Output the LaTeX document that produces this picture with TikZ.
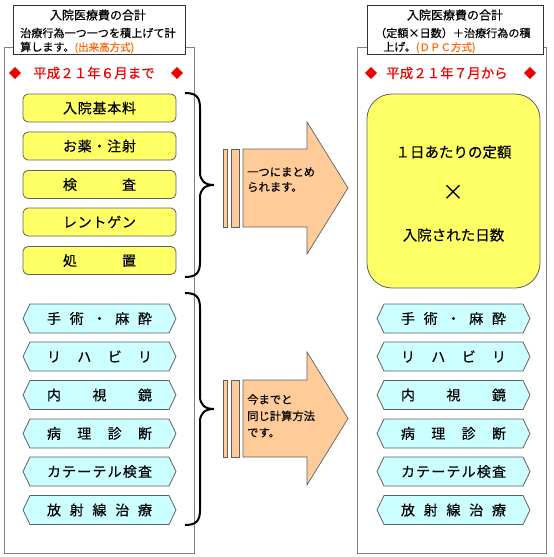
\documentclass[tikz,border=0pt]{standalone}
\usepackage{fontspec}
\setmainfont{Noto Sans CJK JP}[FakeBold=0.3]
\newfontfamily\plainfont{Noto Sans CJK JP}
\definecolor{boxyellow}{HTML}{FFFF66}
\definecolor{hexcyan}{HTML}{CCFFFF}
\definecolor{peach}{HTML}{FFCC99}
\definecolor{linegray}{HTML}{606060}
\definecolor{framegray}{HTML}{808080}
\definecolor{orangetxt}{HTML}{FF6600}
\definecolor{redtxt}{HTML}{EE0000}
\newcommand{\hexbox}[4]{%
  \draw[hexline] (#2-76.5,#3) -- (#2-69.5,#3-14.5) -- (#2+69.5,#3-14.5) -- (#2+76.5,#3) -- (#2+69.5,#3+14.5) -- (#2-69.5,#3+14.5) -- cycle;
  \node[boxtext] (#1) at (#2,#3) {\makebox[105pt][s]{#4}};}
\begin{document}
\begin{tikzpicture}[x=1pt,y=-1pt,
  frame/.style={draw=framegray,line width=0.8pt},
  hdrbox/.style={draw=black!80,line width=0.8pt,fill=white,inner sep=0pt},
  hdrtext/.style={inner sep=0pt,font=\fontsize{11.1}{13}\selectfont},
  redtext/.style={inner sep=0pt,text=redtxt,font=\fontsize{13.5}{15}\selectfont},
  yelbox/.style={draw=linegray,line width=0.8pt,fill=boxyellow,rounded corners=5pt,minimum width=153pt,minimum height=28pt,inner sep=0pt},
  boxtext/.style={inner sep=0pt,font=\fontsize{14}{16}\selectfont},
  hexline/.style={draw=linegray,line width=0.8pt,fill=hexcyan},
  bracestyle/.style={draw=black,line width=2pt},
  arrowshape/.style={draw=linegray,line width=0.7pt,fill=peach},
  arrowtext/.style={inner sep=0pt,align=left,anchor=north west,font=\fontsize{11.3}{15}\selectfont},
]
\useasboundingbox (0,0) rectangle (554,557);
% outer frames
\draw[frame] (4,47) rectangle (194,553);
\draw[frame] (357,47) rectangle (546,553);
% headers
\node[hdrbox,minimum width=172pt,minimum height=49pt] (lhdr) at (99,29.5) {};
\node[hdrtext,font=\fontsize{12}{14}\selectfont] (lh1) at (98,15) {入院医療費の合計};
\node[hdrtext,anchor=west] (lh2) at (20,33) {治療行為一つ一つを積上げて計};
\node[hdrtext,anchor=west] (lh3) at (20,47.5) {算します。{\color{orangetxt}\fontsize{10.5}{12}\selectfont (出来高方式)}};
\node[hdrbox,minimum width=176pt,minimum height=49pt] (rhdr) at (455,29.5) {};
\node[hdrtext,font=\fontsize{12}{14}\selectfont] (rh1) at (455,15) {入院医療費の合計};
\node[hdrtext,anchor=west] (rh2) at (375,33) {（定額×日数）＋治療行為の積};
\node[hdrtext,anchor=west] (rh3) at (383,47.5) {上げ。{\color{orangetxt}\fontsize{10.5}{12}\selectfont (ＤＰＣ方式)}};
% red lines
\node[redtext,font=\fontsize{12}{14}\selectfont] (ld1) at (15,73) {◆};
\node[redtext] (lt) at (94,73) {平成２１年６月まで};
\node[redtext,font=\fontsize{12}{14}\selectfont] (ld2) at (177,73) {◆};
\node[redtext,font=\fontsize{12}{14}\selectfont] (rd1) at (371,73) {◆};
\node[redtext] (rt) at (447,73) {平成２１年７月から};
\node[redtext,font=\fontsize{12}{14}\selectfont] (rd2) at (530,73) {◆};
% yellow boxes
\node[yelbox] (y1) at (99.5,108) {\fontsize{14}{16}\selectfont\makebox[73pt][s]{入\hfill 院\hfill 基\hfill 本\hfill 料}};
\node[yelbox] (y2) at (99.5,146) {\fontsize{14}{16}\selectfont\makebox[73pt][s]{お\hfill 薬\hfill ・\hfill 注\hfill 射}};
\node[yelbox] (y3) at (99.5,184.5) {\fontsize{14}{16}\selectfont\makebox[73pt][s]{検\hfill 査}};
\node[yelbox] (y4) at (99.5,222) {\fontsize{14}{16}\selectfont\makebox[73pt][s]{レ\hfill ン\hfill ト\hfill ゲ\hfill ン}};
\node[yelbox] (y5) at (99.5,260.5) {\fontsize{14}{16}\selectfont\makebox[73pt][s]{処\hfill 置}};
% big yellow box
\node[draw=linegray,line width=0.8pt,fill=boxyellow,rounded corners=25pt,minimum width=173pt,minimum height=194pt,inner sep=0pt] (day) at (453.5,191) {};
\node[boxtext,font=\fontsize{14.5}{16}\selectfont] (d1) at (453.5,152) {１日あたりの定額};
\node[boxtext,font=\plainfont\fontsize{22}{24}\selectfont] (d2) at (453.5,193) {×};
\node[boxtext,font=\fontsize{14.5}{16}\selectfont] (d3) at (453.5,235) {入院された日数};
% hexagon boxes left
\hexbox{lh-a}{99.5}{318.5}{手\hfill 術\hfill ・\hfill 麻\hfill 酔}
\hexbox{lh-b}{99.5}{356.5}{リ\hfill ハ\hfill ビ\hfill リ}
\hexbox{lh-c}{99.5}{395}{内\hfill 視\hfill 鏡}
\hexbox{lh-d}{99.5}{433.5}{病\hfill 理\hfill 診\hfill 断}
\hexbox{lh-e}{99.5}{471.5}{カ\hfill テ\hfill ー\hfill テ\hfill ル\hfill 検\hfill 査}
\hexbox{lh-f}{99.5}{510}{放\hfill 射\hfill 線\hfill 治\hfill 療}
% hexagon boxes right
\hexbox{rh-a}{453.5}{318.5}{手\hfill 術\hfill ・\hfill 麻\hfill 酔}
\hexbox{rh-b}{453.5}{356.5}{リ\hfill ハ\hfill ビ\hfill リ}
\hexbox{rh-c}{453.5}{395}{内\hfill 視\hfill 鏡}
\hexbox{rh-d}{453.5}{433.5}{病\hfill 理\hfill 診\hfill 断}
\hexbox{rh-e}{453.5}{471.5}{カ\hfill テ\hfill ー\hfill テ\hfill ル\hfill 検\hfill 査}
\hexbox{rh-f}{453.5}{510}{放\hfill 射\hfill 線\hfill 治\hfill 療}
% braces
\draw[bracestyle] (185,93) .. controls (196,93) and (200,97) .. (200,108) -- (200,172) .. controls (200,181) and (205,185) .. (214,185) .. controls (205,185) and (200,189) .. (200,198) -- (200,262) .. controls (200,273) and (196,277) .. (185,277);
\draw[bracestyle] (185,293) .. controls (196,293) and (200,297) .. (200,308) -- (200,396) .. controls (200,405) and (205,409) .. (214,409) .. controls (205,409) and (200,413) .. (200,422) -- (200,510) .. controls (200,521) and (196,525) .. (185,525);
% arrow 1
\draw[arrowshape] (223,149) rectangle (227,227);
\draw[arrowshape] (231,149) rectangle (239,227);
\draw[arrowshape] (243,149) -- (307,149) -- (307,122) -- (348,188) -- (307,254) -- (307,227) -- (243,227) -- cycle;
\node[arrowtext] (a1) at (247,167) {一つにまとめ\\られます。};
% arrow 2
\draw[arrowshape] (223,380) rectangle (227,457);
\draw[arrowshape] (231,380) rectangle (239,457);
\draw[arrowshape] (243,380) -- (307,380) -- (307,352) -- (348,418.5) -- (307,485) -- (307,457) -- (243,457) -- cycle;
\node[arrowtext,font=\fontsize{11.3}{16.5}\selectfont] (a2) at (247,394) {今までと\\同じ計算方法\\です。};
\end{tikzpicture}
\end{document}
